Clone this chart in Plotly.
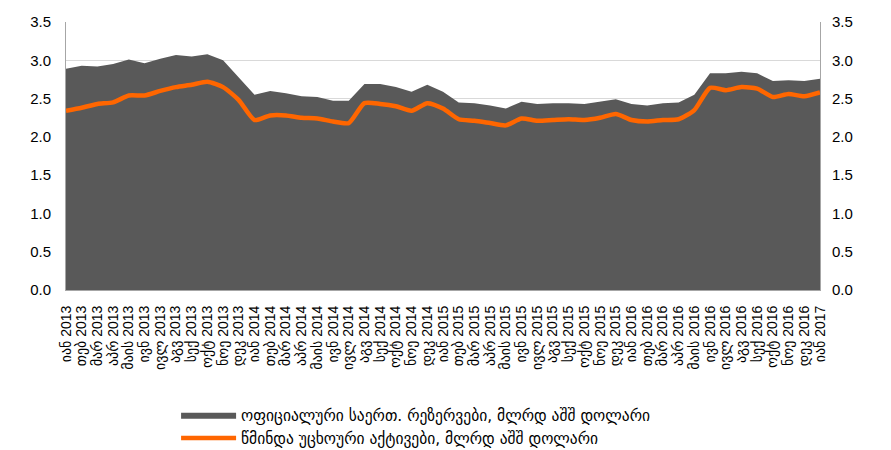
import plotly.graph_objects as go

months = ['იან', 'თებ', 'მარ', 'აპრ', 'მაის', 'ივნ', 'ივლ', 'აგვ', 'სექ', 'ოქტ', 'ნოე', 'დეკ']
years = [2013, 2014, 2015, 2016, 2017]
labels = [f'{m} {y}' for y in years for m in months][:49]

official_reserves = [
    2.89, 2.93, 2.92, 2.95, 3.01, 2.96, 3.02, 3.07, 3.05, 3.08, 3.00, 2.78,
    2.55, 2.60, 2.57, 2.53, 2.52, 2.47, 2.47, 2.69, 2.69, 2.65, 2.59, 2.68,
    2.59, 2.45, 2.44, 2.41, 2.37, 2.46, 2.43, 2.44, 2.44, 2.43, 2.46, 2.49,
    2.43, 2.41, 2.44, 2.45, 2.55, 2.83, 2.83, 2.85, 2.83, 2.73, 2.74, 2.73,
    2.76,
]
net_foreign_assets = [
    2.34, 2.38, 2.43, 2.45, 2.54, 2.54, 2.60, 2.65, 2.68, 2.72, 2.65, 2.48,
    2.22, 2.28, 2.28, 2.25, 2.24, 2.20, 2.18, 2.44, 2.43, 2.40, 2.34, 2.44,
    2.37, 2.23, 2.21, 2.18, 2.15, 2.24, 2.21, 2.22, 2.23, 2.22, 2.25, 2.30,
    2.22, 2.20, 2.22, 2.23, 2.35, 2.64, 2.61, 2.65, 2.63, 2.52, 2.56, 2.53,
    2.58,
]
y_ticks = [0, 0.5, 1.0, 1.5, 2.0, 2.5, 3.0, 3.5]

x = list(range(len(labels)))

fig = go.Figure()

fig.add_trace(
    go.Scatter(
        x=x,
        y=official_reserves,
        mode='lines',
        fill='tozeroy',
        fillcolor='#595959',
        line=dict(width=0, color='#595959'),
        name='ოფიციალური საერთ. რეზერვები, მლრდ აშშ დოლარი'
    )
)

fig.add_trace(
    go.Scatter(
        x=x,
        y=net_foreign_assets,
        mode='lines',
        line=dict(color='#ff6600', width=4.5, shape='spline', smoothing=0.6),
        name='წმინდა უცხოური აქტივები, მლრდ აშშ დოლარი',
        yaxis='y2'
    )
)

tick_font = dict(family='Liberation Sans, DejaVu Sans', size=15, color='#000000')

# the page body adds an 8px offset, so margins are shifted to compensate;
# the plot sits on a y domain so the legend stays inside the paper (no margin push)
y_domain = [0.3853, 1]

fig.update_layout(
    width=891,
    height=450,
    margin=dict(l=58, r=79, t=14, b=0),
    plot_bgcolor='white',
    paper_bgcolor='white',
    showlegend=True,
    legend=dict(
        x=0.146, y=0.137, xanchor='left', yanchor='top',
        font=dict(family='DejaVu Sans, Liberation Sans', size=15.5, color='#000000'),
        tracegroupgap=0, itemwidth=55
    ),
    xaxis=dict(
        range=[0, 48],
        tickmode='array',
        tickvals=x,
        ticktext=labels,
        tickangle=-90,
        tickfont=dict(family='Liberation Sans, DejaVu Sans', size=14, color='#000000'),
        ticklabelstandoff=9,
        showgrid=False,
        showline=True,
        linecolor='#a6a6a6',
        linewidth=1,
        ticks='',
        zeroline=False,
        automargin=False
    ),
    yaxis=dict(
        domain=y_domain,
        range=[0, 3.5],
        tickvals=y_ticks,
        tickformat='.1f',
        tickfont=tick_font,
        ticklabelstandoff=11,
        showgrid=True,
        gridcolor='#d9d9d9',
        gridwidth=1,
        showline=True,
        linecolor='#a6a6a6',
        zeroline=False,
        ticks='',
        automargin=False
    ),
    yaxis2=dict(
        range=[0, 3.5],
        tickvals=y_ticks,
        tickformat='.1f',
        tickfont=tick_font,
        ticklabelstandoff=8,
        overlaying='y',
        side='right',
        showgrid=False,
        showline=True,
        linecolor='#a6a6a6',
        zeroline=False,
        ticks='',
        automargin=False
    )
)

fig.write_html("out.html")
